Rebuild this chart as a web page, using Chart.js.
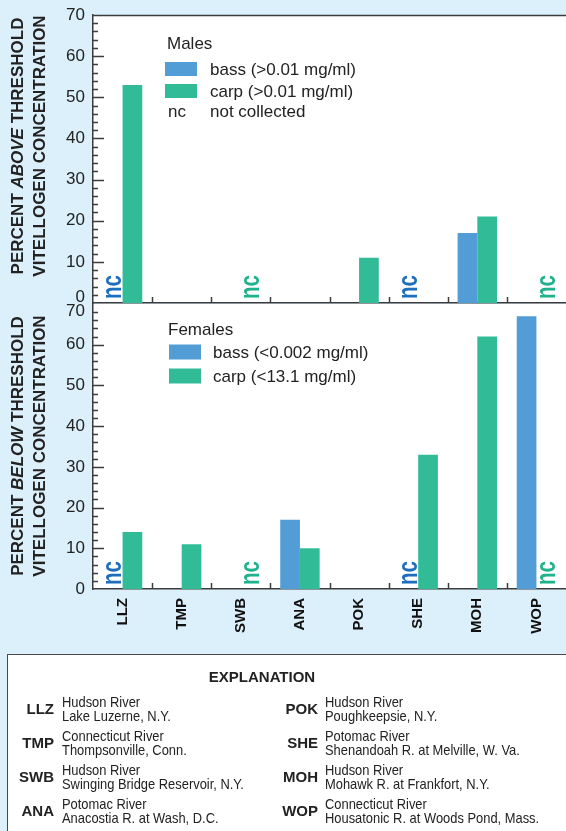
<!DOCTYPE html>
<html>
<head>
<meta charset="utf-8">
<script src="https://cdn.jsdelivr.net/npm/chart.js@4"></script>
<style>
  html, body { margin: 0; padding: 0; background: #dcf0fb; }
  #wrap { position: relative; width: 566px; height: 831px; overflow: hidden; background: #dcf0fb;
          font-family: "Liberation Sans", Arial, sans-serif; color: #222; }
  canvas { position: absolute; left: 0; }
  #topChart { top: 0; }
  #bottomChart { top: 303px; }
  #explain { position: absolute; left: 7px; top: 654px; width: 620px; height: 240px;
             background: #fff; border: 1.5px solid #4a4a4a; box-sizing: border-box; }
  .head { position: absolute; left: 0; width: 524px; top: 669px; text-align: center;
          font-weight: bold; font-size: 15px; line-height: 16px; }
  .code { position: absolute; text-align: right; font-weight: bold; font-size: 15px; line-height: 28px; }
  .desc { position: absolute; font-size: 15px; line-height: 14px; white-space: nowrap;
          transform: scaleX(0.86); transform-origin: 0 0; }
</style>
</head>
<body>
<div id="wrap">
  <canvas id="topChart" width="566" height="304"></canvas>
  <canvas id="bottomChart" width="566" height="345"></canvas>
  <div id="explain"></div>
</div>
<script>
// sites along the x axis
const sites = ['LLZ', 'TMP', 'SWB', 'ANA', 'POK', 'SHE', 'MOH', 'WOP'];
// null = not collected (nc)
const maleBass = [null, 0, 0, 0, 0, null, 17, 0];
const maleCarp = [53, 0, null, 0, 11, 0, 21, null];
const femaleBass = [null, 0, 0, 17, 0, null, 0, 67];
const femaleCarp = [14, 11, null, 10, 0, 33, 62, null];
const yMax = 70;

const siteRivers = ['Hudson River', 'Connecticut River', 'Hudson River', 'Potomac River',
  'Hudson River', 'Potomac River', 'Hudson River', 'Connecticut River'];
const sitePlaces = ['Lake Luzerne, N.Y.', 'Thompsonville, Conn.', 'Swinging Bridge Reservoir, N.Y.',
  'Anacostia R. at Wash, D.C.', 'Poughkeepsie, N.Y.', 'Shenandoah R. at Melville, W. Va.',
  'Mohawk R. at Frankfort, N.Y.', 'Housatonic R. at Woods Pond, Mass.'];

const BASS = '#529dd6', CARP = '#32bb97';
const AXIS = '#3c3c3c';
const FONT = '"Liberation Sans", Arial, sans-serif';

const panel = {
  id: 'panel',
  beforeDraw(chart) {
    const { ctx, chartArea: a } = chart;
    ctx.save();
    ctx.fillStyle = '#fff';
    ctx.fillRect(a.left, a.top, a.right - a.left, a.bottom - a.top);
    ctx.restore();
  },
  afterDraw(chart, args, opts) {
    const { ctx, chartArea: a, scales: { x, y } } = chart;
    ctx.save();
    ctx.strokeStyle = AXIS;
    ctx.lineWidth = 1.5;
    ctx.beginPath();
    if (opts.frameTop) {
      ctx.moveTo(a.left, a.top + 0.5);
      ctx.lineTo(a.right, a.top + 0.5);
    }
    // inward ticks on y: long every 10, short every 2
    for (let v = 2; v < yMax; v += 2) {
      const py = Math.round(y.getPixelForValue(v)) + 0.5;
      ctx.moveTo(a.left, py);
      ctx.lineTo(a.left + (v % 10 === 0 ? 11 : 5), py);
    }
    // inward ticks between categories
    for (let i = 1; i < sites.length; i++) {
      const px = Math.round(x.getPixelForValue(i - 0.5)) + 0.5;
      ctx.moveTo(px, a.bottom);
      ctx.lineTo(px, a.bottom - 6);
    }
    ctx.stroke();

    // the edge tick label, nudged off the neighbouring panel
    ctx.fillStyle = '#222';
    ctx.font = '17px ' + FONT;
    ctx.textAlign = 'right';
    ctx.textBaseline = 'middle';
    ctx.fillText(String(opts.edge.value), a.left - 8, y.getPixelForValue(opts.edge.value) + opts.edge.shift);

    // "nc" where a sample was not collected
    const y0 = y.getPixelForValue(0);
    chart.data.datasets.forEach((ds, d) => {
      const meta = chart.getDatasetMeta(d);
      ds.data.forEach((v, i) => {
        if (v !== null) return;
        ctx.save();
        ctx.translate(meta.data[i].x, y0 - 4);
        ctx.rotate(-Math.PI / 2);
        ctx.scale(0.76, 1);
        ctx.fillStyle = ds.ncColor;
        ctx.font = 'bold 27px ' + FONT;
        ctx.textAlign = 'left';
        ctx.textBaseline = 'middle';
        ctx.fillText('nc', 0, 1);
        ctx.restore();
      });
    });

    // legend inside the plot
    const L = opts.legend;
    ctx.font = '17px ' + FONT;
    ctx.textAlign = 'left';
    ctx.fillStyle = '#222';
    ctx.fillText(L.title, a.left + L.titleX, a.top + L.titleY);
    chart.data.datasets.forEach((ds, d) => {
      const cy = a.top + L.rows[d];
      ctx.fillStyle = ds.backgroundColor;
      ctx.fillRect(a.left + L.boxX, cy - L.boxH / 2, 32, L.boxH);
      ctx.fillStyle = '#222';
      ctx.fillText(ds.label, a.left + L.textX, cy + 1);
    });
    if (L.ncRow) {
      const cy = a.top + L.ncRow;
      ctx.fillText('nc', a.left + L.titleX + 1, cy);
      ctx.fillText('not collected', a.left + L.textX, cy);
    }

    // two-line y axis title with one italic word
    const T = opts.title;
    const cy = a.top + T.center;
    T.lines.forEach((parts, k) => {
      ctx.save();
      ctx.translate(T.xs[k], cy);
      ctx.rotate(-Math.PI / 2);
      let total = 0;
      parts.forEach(p => { ctx.font = (p[1] ? 'italic ' : '') + 'bold 17px ' + FONT; total += ctx.measureText(p[0]).width; });
      let px = -total / 2;
      ctx.fillStyle = '#222';
      ctx.textBaseline = 'middle';
      parts.forEach(p => {
        ctx.font = (p[1] ? 'italic ' : '') + 'bold 17px ' + FONT;
        ctx.fillText(p[0], px, 0);
        px += ctx.measureText(p[0]).width;
      });
      ctx.restore();
    });
    ctx.restore();
  }
};

function noPad(s) {
  s.paddingTop = 0; s.paddingBottom = 0; s.paddingLeft = 0; s.paddingRight = 0;
}

function makeChart(id, bass, carp, labels, cfg) {
  return new Chart(document.getElementById(id), {
    type: 'bar',
    data: {
      labels: sites,
      datasets: [
        { label: labels[0], data: bass, backgroundColor: BASS, ncColor: '#1d6fbd' },
        { label: labels[1], data: carp, backgroundColor: CARP, ncColor: '#1eb38c' }
      ]
    },
    options: {
      responsive: false,
      animation: false,
      categoryPercentage: 2 / 3,
      barPercentage: 1,
      layout: { padding: { top: cfg.padTop, left: 0, right: 0, bottom: 0 }, autoPadding: false },
      plugins: {
        legend: { display: false },
        tooltip: { enabled: false },
        panel: cfg.panel
      },
      scales: {
        x: {
          grid: { display: false, drawTicks: false },
          border: { display: true, color: AXIS, width: 1.5 },
          ticks: {
            display: cfg.xLabels,
            minRotation: 90, maxRotation: 90,
            padding: 9,
            color: '#111',
            font: { family: FONT, size: 15, weight: 'bold' }
          },
          afterFit: s => { s.height = cfg.xHeight; noPad(s); }
        },
        y: {
          min: 0, max: yMax,
          grid: { display: false, drawTicks: false },
          border: { display: true, color: AXIS, width: 1.5 },
          ticks: {
            stepSize: 10, padding: 8, color: '#222',
            font: { family: FONT, size: 17 },
            callback: v => (v === cfg.panel.edge.value ? '' : v)
          },
          afterFit: s => { s.width = 93; noPad(s); }
        }
      }
    },
    plugins: [panel]
  });
}

makeChart('topChart', maleBass, maleCarp, ['bass (>0.01 mg/ml)', 'carp (>0.01 mg/ml)'], {
  padTop: 15, xHeight: 1, xLabels: false,
  panel: {
    frameTop: true,
    edge: { value: 0, shift: -6 },
    legend: { title: 'Males', titleX: 74, titleY: 29, boxX: 72, boxH: 14, textX: 117, rows: [54, 76], ncRow: 97 },
    title: { center: 131, xs: [18, 40], lines: [
      [['PERCENT ', false], ['ABOVE', true], [' THRESHOLD', false]],
      [['VITELLOGEN CONCENTRATION', false]]
    ] }
  }
});

makeChart('bottomChart', femaleBass, femaleCarp, ['bass (<0.002 mg/ml)', 'carp (<13.1 mg/ml)'], {
  padTop: 1, xHeight: 59, xLabels: true,
  panel: {
    frameTop: false,
    edge: { value: 70, shift: 7 },
    legend: { title: 'Females', titleX: 75, titleY: 26, boxX: 76, boxH: 15, textX: 120, rows: [48, 72], ncRow: 0 },
    title: { center: 142, xs: [18, 40], lines: [
      [['PERCENT ', false], ['BELOW', true], [' THRESHOLD', false]],
      [['VITELLOGEN CONCENTRATION', false]]
    ] }
  }
});

// explanation key
const wrap = document.getElementById('wrap');
const head = document.createElement('div');
head.className = 'head';
head.textContent = 'EXPLANATION';
wrap.appendChild(head);
sites.forEach((code, i) => {
  const col = Math.floor(i / 4), row = i % 4;
  const top = 695 + row * 34;
  const c = document.createElement('div');
  c.className = 'code';
  c.style.left = (col ? 250 : 0) + 'px';
  c.style.width = (col ? 68 : 54) + 'px';
  c.style.top = top + 'px';
  c.textContent = code;
  const d = document.createElement('div');
  d.className = 'desc';
  d.style.left = (col ? 325 : 62) + 'px';
  d.style.top = top + 'px';
  d.innerHTML = siteRivers[i] + '<br>' + sitePlaces[i];
  wrap.appendChild(c);
  wrap.appendChild(d);
});
</script>
</body>
</html>
